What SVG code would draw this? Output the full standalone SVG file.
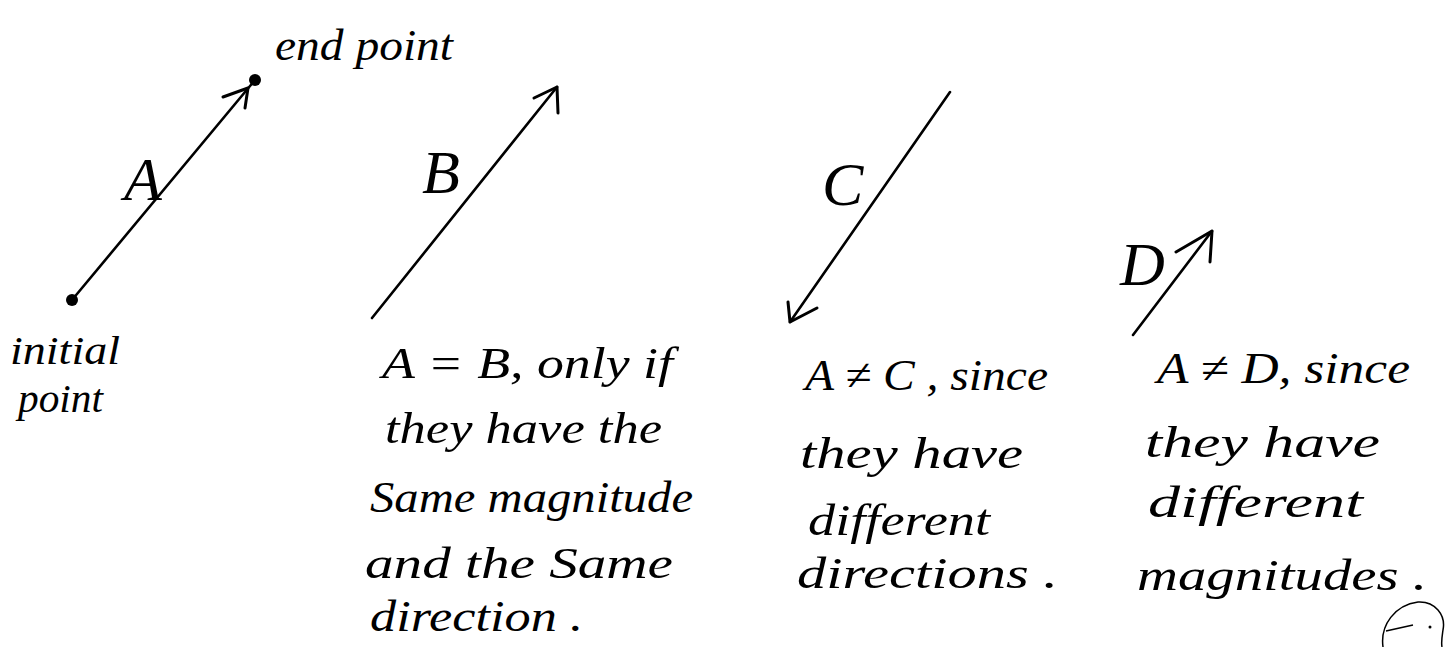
<svg xmlns="http://www.w3.org/2000/svg" width="1449" height="647" viewBox="0 0 1449 647">
<style>
.bg{fill:#ffffff}
.vec{stroke:#000;stroke-width:2.6;fill:none;stroke-linecap:round;stroke-linejoin:round}
.head{stroke:#000;stroke-width:3;fill:none;stroke-linecap:round;stroke-linejoin:round}
.dot{fill:#000}
.hand{font-family:"Liberation Serif","DejaVu Serif",serif;font-style:italic;fill:#000;font-size:44px}
.small{font-size:41px}
.lbl{font-family:"Liberation Serif","DejaVu Serif",serif;font-style:italic;fill:#000;font-size:62px}
.mark{stroke:#000;stroke-width:1.5;fill:none}
</style>
<rect class="bg" x="0" y="0" width="1449" height="647"/>

<g id="connectors">
  <path class="vec" d="M72,300 L255,80"/>
  <path class="head" d="M223,97 L248,88 L245,108"/>
  <path class="vec" d="M372,318 L557,87"/>
  <path class="head" d="M534,98 L557,87 L558,113"/>
  <path class="vec" d="M950,92 L790,322"/>
  <path class="head" d="M788,302 L790,322 L817,308"/>
  <path class="vec" d="M1133,335 L1212,231"/>
  <path class="head" d="M1176,252 L1212,231 L1210,262"/>
</g>

<g id="vectorA">
  <circle class="dot" cx="72" cy="300" r="6"/>
  <circle class="dot" cx="255" cy="80" r="6"/>
  <text class="lbl" x="124" y="200">A</text>
  <text class="hand" x="275" y="60" textLength="178" lengthAdjust="spacingAndGlyphs">end point</text>
  <text class="hand small" x="10" y="364" textLength="110" lengthAdjust="spacingAndGlyphs">initial</text>
  <text class="hand small" x="18" y="412" textLength="85" lengthAdjust="spacingAndGlyphs">point</text>
</g>

<g id="vectorB">
  <text class="lbl" x="422" y="193">B</text>
  <text class="hand" x="382" y="378" textLength="291" lengthAdjust="spacingAndGlyphs">A = B,  only if</text>
  <text class="hand" x="385" y="443" textLength="277" lengthAdjust="spacingAndGlyphs">they have the</text>
  <text class="hand" x="370" y="512" textLength="323" lengthAdjust="spacingAndGlyphs">Same magnitude</text>
  <text class="hand" x="365" y="578" textLength="308" lengthAdjust="spacingAndGlyphs">and the Same</text>
  <text class="hand" x="370" y="631" textLength="213" lengthAdjust="spacingAndGlyphs">direction .</text>
</g>

<g id="vectorC">
  <text class="lbl" x="822" y="205">C</text>
  <text class="hand" x="805" y="390" textLength="243" lengthAdjust="spacingAndGlyphs">A ≠ C , since</text>
  <text class="hand" x="800" y="468" textLength="223" lengthAdjust="spacingAndGlyphs">they have</text>
  <text class="hand" x="808" y="535" textLength="182" lengthAdjust="spacingAndGlyphs">different</text>
  <text class="hand" x="797" y="588" textLength="261" lengthAdjust="spacingAndGlyphs">directions .</text>
</g>

<g id="vectorD">
  <text class="lbl" x="1120" y="285">D</text>
  <text class="hand" x="1157" y="383" textLength="253" lengthAdjust="spacingAndGlyphs">A ≠ D,  since</text>
  <text class="hand" x="1145" y="457" textLength="235" lengthAdjust="spacingAndGlyphs">they have</text>
  <text class="hand" x="1148" y="517" textLength="215" lengthAdjust="spacingAndGlyphs">different</text>
  <text class="hand" x="1137" y="590" textLength="290" lengthAdjust="spacingAndGlyphs">magnitudes .</text>
</g>

<g id="pagemark">
  <path class="mark" d="M1383,647 C1380,625 1395,605 1418,602 C1435,601 1446,615 1443,630 C1442,637 1441,642 1442,647"/>
  <path class="mark" d="M1386,631 L1413,625"/>
  <circle class="dot" cx="1430" cy="627" r="1.5"/>
</g>
</svg>
